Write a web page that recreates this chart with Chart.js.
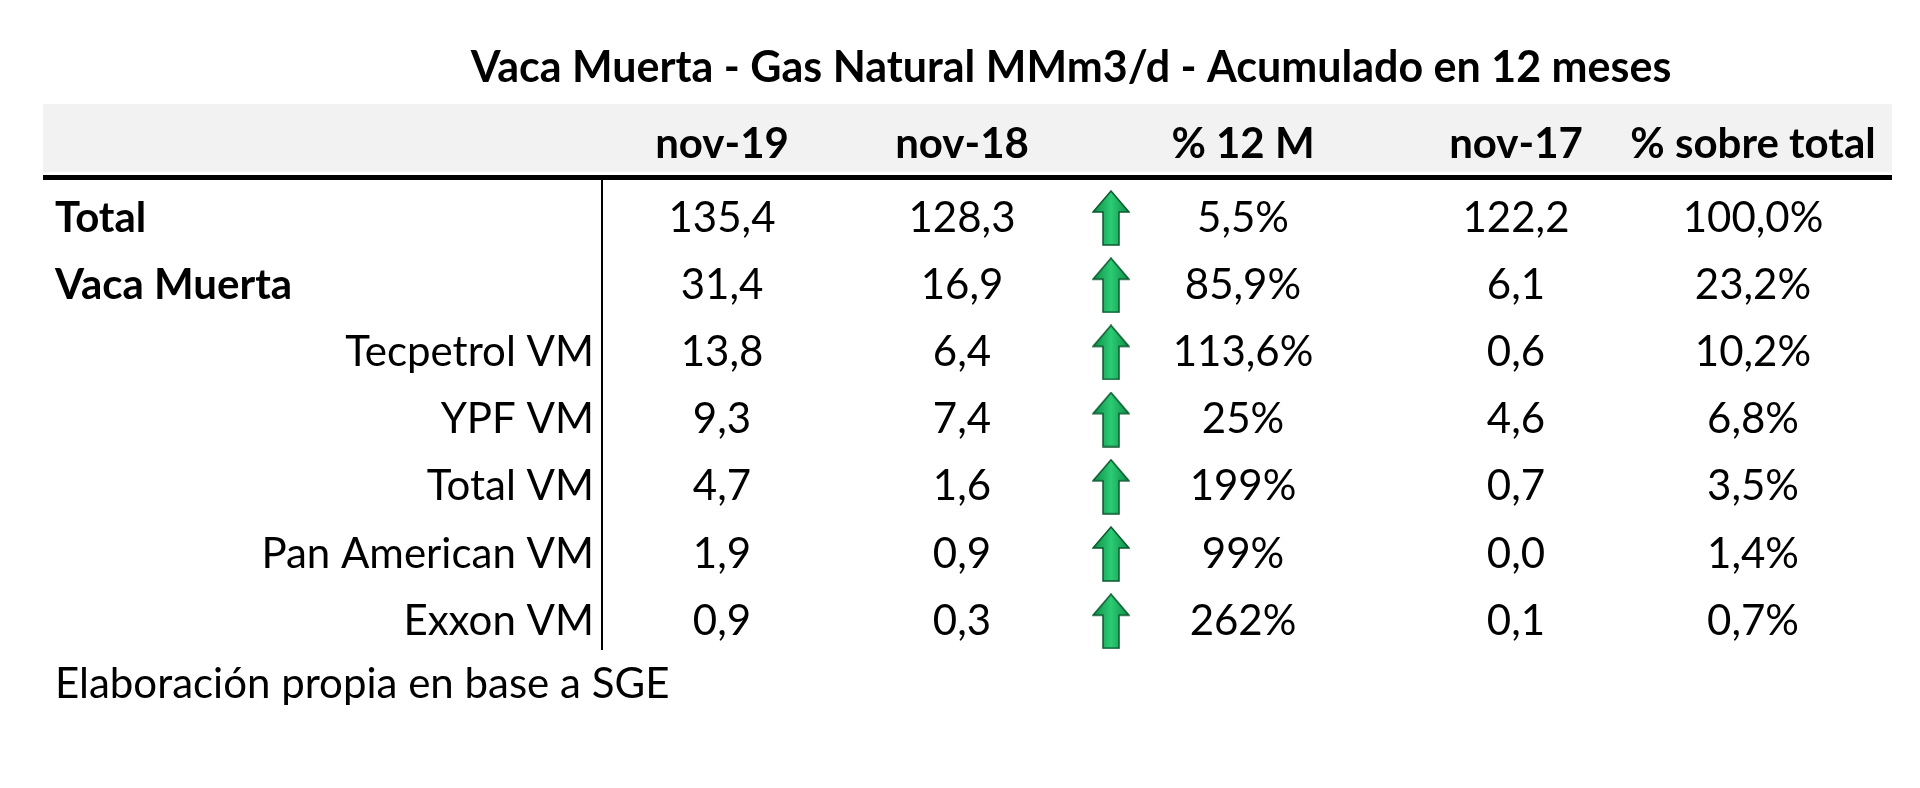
<!DOCTYPE html>
<html><head><meta charset="utf-8">
<script src="https://cdn.jsdelivr.net/npm/chart.js@4.4.1/dist/chart.umd.min.js"></script>
<style>html,body{margin:0;padding:0;background:#fff}#w{width:1920px;height:788px}</style>
</head><body><div id="w"><canvas id="c"></canvas></div>
<script>
const title = "Vaca Muerta - Gas Natural MMm3/d - Acumulado en 12 meses";
const columns = ["nov-19","nov-18","% 12 M","nov-17","% sobre total"];
const categories = ["Total","Vaca Muerta","Tecpetrol VM","YPF VM","Total VM","Pan American VM","Exxon VM"];
const nov19 = ["135,4","31,4","13,8","9,3","4,7","1,9","0,9"];
const nov18 = ["128,3","16,9","6,4","7,4","1,6","0,9","0,3"];
const pct12 = ["5,5%","85,9%","113,6%","25%","199%","99%","262%"];
const nov17 = ["122,2","6,1","0,6","4,6","0,7","0,0","0,1"];
const pctTotal = ["100,0%","23,2%","10,2%","6,8%","3,5%","1,4%","0,7%"];
const source = "Elaboración propia en base a SGE";

const FONT = "Lato, 'Open Sans', sans-serif";
const colX = [722, 962, 1243, 1516, 1753];
const arrowX = 1111;
const rowY = i => 218 + i*67.2;

const arr = document.createElement('canvas'); arr.width=38; arr.height=56;
{const g=arr.getContext('2d');
 const gr=g.createLinearGradient(0,0,38,0);gr.addColorStop(0,'#0b8a45');gr.addColorStop(0.5,'#2ccb74');gr.addColorStop(1,'#0b8a45');
 g.fillStyle=gr;g.strokeStyle='#0a5a2e';g.lineWidth=1.5;
 g.beginPath();g.moveTo(19,1);g.lineTo(37,22);g.lineTo(27,22);g.lineTo(27,55);g.lineTo(11,55);g.lineTo(11,22);g.lineTo(1,22);g.closePath();g.fill();g.stroke();}

const tablePlugin = {
  id:'table',
  beforeDatasetsDraw(chart){
    const {ctx, scales:{x,y}} = chart;
    const X=v=>x.getPixelForValue(v), Y=v=>y.getPixelForValue(v);
    ctx.save();
    ctx.fillStyle='#f2f2f2'; ctx.fillRect(X(43),Y(104),X(1892)-X(43),Y(172)-Y(104));
    ctx.fillStyle='#000';
    ctx.fillRect(X(43),Y(175),X(1892)-X(43),5);
    ctx.fillRect(X(601),Y(180),2,Y(650)-Y(180));
    ctx.textBaseline='middle';
    ctx.font=`bold 43px ${FONT}`; ctx.textAlign='center';
    ctx.fillText(title, X(1071), Y(68));
    ctx.font=`bold 42px ${FONT}`;
    columns.forEach((c,i)=>ctx.fillText(c, X(colX[i]), Y(144)));
    const cols=[nov19,nov18,pct12,nov17,pctTotal];
    categories.forEach((cat,i)=>{
      const yy=Y(rowY(i));
      if(i<2){ctx.font=`bold 42px ${FONT}`;ctx.textAlign='left';ctx.fillText(cat,X(55),yy);}
      else{ctx.font=`42px ${FONT}`;ctx.textAlign='right';ctx.fillText(cat,X(594),yy);}
      ctx.font=`42px ${FONT}`;ctx.textAlign='center';
      cols.forEach((a,j)=>ctx.fillText(a[i],X(colX[j]),yy));
    });
    ctx.font=`42px ${FONT}`;ctx.textAlign='left';
    ctx.fillText(source,X(55),Y(684));
    ctx.restore();
  }
};

new Chart(document.getElementById('c'),{
  type:'scatter',
  data:{datasets:[{data:categories.map((c,i)=>({x:arrowX,y:rowY(i)})),pointStyle:arr,pointRadius:28,pointHoverRadius:28}]},
  options:{responsive:true,maintainAspectRatio:false,animation:false,
    layout:{padding:0,autoPadding:false},
    plugins:{legend:{display:false},tooltip:{enabled:false}},
    scales:{x:{type:'linear',min:0,max:1920,display:false},y:{type:'linear',min:0,max:788,reverse:true,display:false}}},
  plugins:[tablePlugin]
});
</script></body></html>
